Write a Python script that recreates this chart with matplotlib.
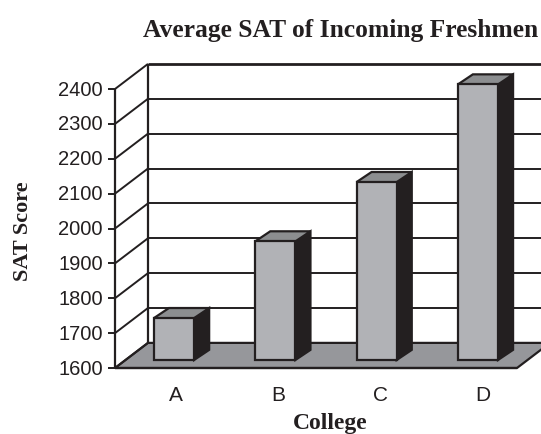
import matplotlib
matplotlib.use("Agg")
import matplotlib.pyplot as plt
from matplotlib.patches import Polygon

colleges = ["A", "B", "C", "D"]
sat_scores = [1720, 1940, 2110, 2390]
y_ticks = [1600, 1700, 1800, 1900, 2000, 2100, 2200, 2300, 2400]

W, H = 541, 434
DARK = "#231f20"

# fake 3d depth, in data units
wall_dx, wall_dy = 0.328, 72
bar_dx, bar_dy = 0.087, 23
side_dx, side_dy = 0.15, 29
bar_w = 0.4
step = 1.008

fig = plt.figure(figsize=(W / 100, H / 100), dpi=100)
ax = fig.add_axes([115 / W, 1 - 368 / H, 402 / W, 279 / H])
ax.set_xlim(0, len(colleges))
ax.set_ylim(1600, 2400)
ax.axis("off")

def poly(pts, face, z, lw=1.6):
    ax.add_patch(Polygon(pts, closed=True, facecolor=face, edgecolor=DARK,
                         linewidth=lw, zorder=z, clip_on=False, joinstyle="miter"))

def line(xs, ys, z=2, lw=1.4):
    ax.plot(xs, ys, color=DARK, lw=lw, zorder=z, clip_on=False, solid_capstyle="butt")

x_end = len(colleges)
y0 = y_ticks[0]

# floor
poly([(0, y0), (x_end, y0), (x_end + wall_dx, y0 + wall_dy), (wall_dx, y0 + wall_dy)], "#96979b", 3)

# walls and gridlines
for t in y_ticks:
    if t > y0:
        line([wall_dx, x_end + wall_dx], [t + wall_dy, t + wall_dy], lw=2 if t == y_ticks[-1] else 1.4)
    line([0, wall_dx], [t, t + wall_dy], z=4)
    line([-0.07, 0], [t, t], z=4)
line([0, 0], [y_ticks[0], y_ticks[-1]], z=4, lw=1.6)
line([wall_dx, wall_dx], [y0 + wall_dy, y_ticks[-1] + wall_dy], z=4, lw=1.6)
line([0, x_end], [y0, y0], z=4, lw=1.6)

# bars
for i, score in enumerate(sat_scores):
    left = i * step + 0.5 + bar_dx - bar_w / 2
    right = left + bar_w
    bottom = y0 + bar_dy
    top = score + bar_dy
    poly([(right, bottom), (right + side_dx, bottom + side_dy),
          (right + side_dx, top + side_dy), (right, top)], DARK, 5)
    poly([(left, top), (right, top), (right + side_dx, top + side_dy),
          (left + side_dx, top + side_dy)], "#8c8e90", 5)
    poly([(left, bottom), (right, bottom), (right, top), (left, top)], "#b1b2b6", 6)
    ax.text(i * 1.015 + 0.61, 1600 - 80, colleges[i], ha="center", va="center",
            family="Liberation Sans", fontsize=15, color=DARK, clip_on=False)

for t in y_ticks:
    ax.text(-0.12, t - 3, str(t), ha="right", va="center", family="Liberation Sans",
            fontsize=14.5, color=DARK, clip_on=False)

fig.text(341 / W, 1 - 30 / H, "Average SAT of Incoming Freshmen", ha="center", va="center",
         family="Liberation Serif", fontweight="bold", fontsize=18.4, color=DARK)
fig.text(23 / W, 1 - 231 / H, "SAT Score", rotation=90, ha="center", va="center",
         family="Liberation Serif", fontweight="bold", fontsize=16, color=DARK)
fig.text(330 / W, 1 - 424 / H, "College", ha="center", va="center",
         family="Liberation Serif", fontweight="bold", fontsize=17, color=DARK)

fig.savefig("out.png", dpi=100)
